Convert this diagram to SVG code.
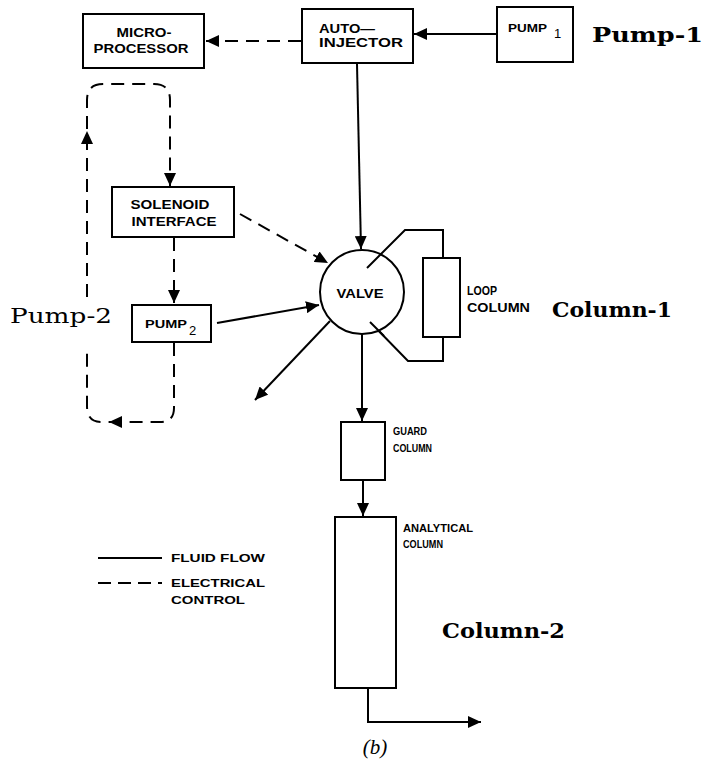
<svg xmlns="http://www.w3.org/2000/svg" width="708" height="761" viewBox="0 0 708 761">
<defs>
<marker id="ah" markerUnits="userSpaceOnUse" markerWidth="14" markerHeight="12" refX="13" refY="6" orient="auto">
<path d="M0,0 L13,6 L0,12 z" fill="#000"/>
</marker>
<style>
.box{fill:#fff;stroke:#000;stroke-width:2}
.ln{fill:none;stroke:#000;stroke-width:2}
.ds{fill:none;stroke:#000;stroke-width:2;stroke-dasharray:13 8}
.t{font-family:"Liberation Sans",Arial,sans-serif;font-weight:bold;fill:#000}
.big{font-family:"DejaVu Serif","Liberation Serif",serif;font-weight:bold;font-size:21px;fill:#000}
.reg{font-family:"DejaVu Serif","Liberation Serif",serif;font-weight:normal;font-size:21px;fill:#000}
.ah{fill:#000}
</style>
</defs>
<rect width="708" height="761" fill="#fff"/>

<g id="connectors">
<path class="ds" d="M301,41 H206" marker-end="url(#ah)"/>
<path class="ln" d="M497,34 H414" marker-end="url(#ah)"/>
<path class="ln" d="M357,64 L361,249" marker-end="url(#ah)"/>
<path class="ds" d="M174,343 V408 Q174,422 160,422 H101 Q87,422 87,406 V348"/>
<path class="ds" d="M87,297 V100 Q87,84 103,84 H154 Q170,84 170,100 V186"/>
<path class="ah" d="M109,422 L122,416 L122,428 z"/>
<path class="ah" d="M87,131 L81,144 L93,144 z"/>
<path class="ah" d="M170,186 L164,173 L176,173 z"/>
<path class="ds" d="M174,238 V303" marker-end="url(#ah)"/>
<path class="ds" d="M240,214 L328,263" marker-end="url(#ah)"/>
<path class="ln" d="M217,323 L319,305" marker-end="url(#ah)"/>
<path class="ln" d="M330,321 L255,400" marker-end="url(#ah)"/>
<path class="ln" d="M362,334 V421" marker-end="url(#ah)"/>
<path class="ln" d="M363,481 V516" marker-end="url(#ah)"/>
<path class="ln" d="M368,689 V722 H481" marker-end="url(#ah)"/>
<path class="ln" d="M367,268 L405,230 H443 V258"/>
<path class="ln" d="M370,322 L408,361 H443 V337"/>
</g>

<g id="microprocessor">
<rect class="box" x="83" y="14" width="121" height="54"/>
<text class="t" font-size="13" x="144" y="37" text-anchor="middle" textLength="55" lengthAdjust="spacingAndGlyphs">MICRO-</text>
<text class="t" font-size="13" x="141" y="53" text-anchor="middle" textLength="95" lengthAdjust="spacingAndGlyphs">PROCESSOR</text>
</g>

<g id="autoinjector">
<rect class="box" x="302" y="9" width="111" height="54"/>
<text class="t" font-size="12" x="347" y="33" text-anchor="middle" textLength="56" lengthAdjust="spacingAndGlyphs">AUTO—</text>
<text class="t" font-size="12" x="361" y="47" text-anchor="middle" textLength="84" lengthAdjust="spacingAndGlyphs">INJECTOR</text>
</g>

<g id="pump1">
<rect class="box" x="497" y="7" width="76" height="55"/>
<text class="t" font-size="11" x="508" y="32" textLength="39" lengthAdjust="spacingAndGlyphs">PUMP</text>
<text font-family="'Liberation Sans',Arial,sans-serif" font-size="13" x="554" y="38">1</text>
</g>

<g id="solenoid">
<rect class="box" x="112" y="187" width="122" height="50"/>
<text class="t" font-size="13" x="170" y="209" text-anchor="middle" textLength="79" lengthAdjust="spacingAndGlyphs">SOLENOID</text>
<text class="t" font-size="13" x="174" y="226" text-anchor="middle" textLength="85" lengthAdjust="spacingAndGlyphs">INTERFACE</text>
</g>

<g id="pump2">
<rect class="box" x="132" y="305" width="79" height="37"/>
<text class="t" font-size="11" x="145" y="328" textLength="42" lengthAdjust="spacingAndGlyphs">PUMP</text>
<text font-family="'Liberation Sans',Arial,sans-serif" font-size="13" x="189" y="335">2</text>
</g>

<g id="valve">
<circle cx="362" cy="292" r="42" fill="#fff" stroke="#000" stroke-width="2"/>
<text class="t" font-size="12" x="360" y="298" text-anchor="middle" textLength="47" lengthAdjust="spacingAndGlyphs">VALVE</text>
</g>
<path class="ln" d="M367,268 L381,254"/>
<path class="ln" d="M370,322 L384,336"/>

<g id="loopcolumn">
<rect class="box" x="423" y="258" width="37" height="79"/>
<text class="t" font-size="12" x="467" y="295" textLength="30" lengthAdjust="spacingAndGlyphs">LOOP</text>
<text class="t" font-size="12" x="467" y="312" textLength="63" lengthAdjust="spacingAndGlyphs">COLUMN</text>
</g>

<g id="guardcolumn">
<rect class="box" x="341" y="422" width="44" height="58"/>
<text class="t" font-size="11" x="393" y="434.5" textLength="34" lengthAdjust="spacingAndGlyphs">GUARD</text>
<text class="t" font-size="11" x="393" y="451.5" textLength="39" lengthAdjust="spacingAndGlyphs">COLUMN</text>
</g>

<g id="analyticalcolumn">
<rect class="box" x="335" y="517" width="61" height="171"/>
<text class="t" font-size="11" x="403" y="532" textLength="70" lengthAdjust="spacingAndGlyphs">ANALYTICAL</text>
<text class="t" font-size="11" x="403" y="548" textLength="40" lengthAdjust="spacingAndGlyphs">COLUMN</text>
</g>

<g id="legend">
<path class="ln" d="M98,558 H162"/>
<path class="ln" d="M98,583 H162" stroke-dasharray="13 7"/>
<text class="t" font-size="11" x="171" y="562" textLength="94" lengthAdjust="spacingAndGlyphs">FLUID FLOW</text>
<text class="t" font-size="11" x="171" y="587" textLength="94" lengthAdjust="spacingAndGlyphs">ELECTRICAL</text>
<text class="t" font-size="11" x="171" y="604" textLength="74" lengthAdjust="spacingAndGlyphs">CONTROL</text>
</g>

<g id="labels">
<text class="big" x="592" y="42" textLength="111" lengthAdjust="spacingAndGlyphs">Pump-1</text>
<text class="reg" x="10" y="323" textLength="102" lengthAdjust="spacingAndGlyphs">Pump-2</text>
<text class="big" x="552" y="317" textLength="120" lengthAdjust="spacingAndGlyphs">Column-1</text>
<text class="big" x="442" y="638" textLength="123" lengthAdjust="spacingAndGlyphs">Column-2</text>
<text x="375" y="754" text-anchor="middle" font-family="'Liberation Serif','Times New Roman',serif" font-style="italic" font-size="21">(b)</text>
</g>
</svg>
